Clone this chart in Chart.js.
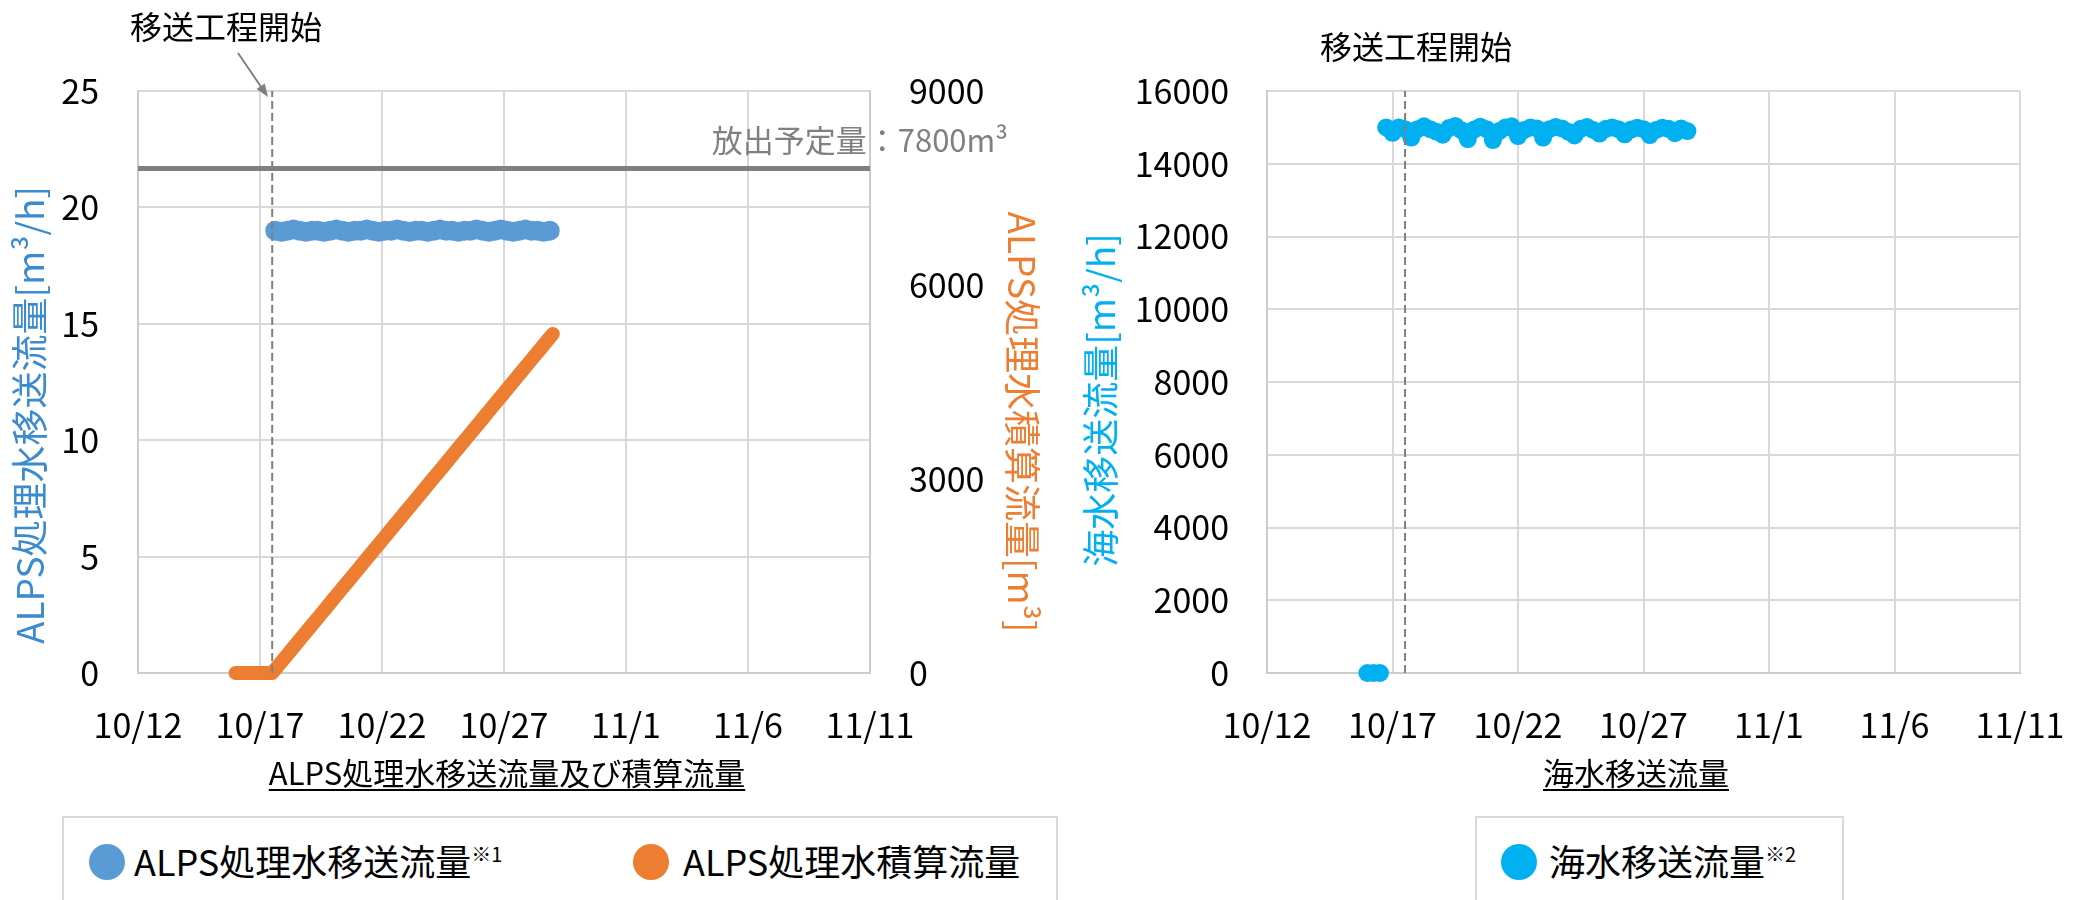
<!DOCTYPE html>
<html lang="ja">
<head>
<meta charset="utf-8">
<title>ALPS処理水移送流量及び積算流量・海水移送流量</title>
<script src="https://cdn.jsdelivr.net/npm/chart.js@4.4.1/dist/chart.umd.min.js"></script>
<style>
    html, body { margin: 0; padding: 0; background: #fff; }
    body { width: 2073px; height: 900px; position: relative; overflow: hidden; font-family: 'Noto Sans CJK JP', sans-serif; }
    .chartBox { position: absolute; top: 0; height: 810px; }
    .legend { position: absolute; top: 816px; height: 120px; border: 2px solid #d9d9d9; box-sizing: border-box; background: #fff; }
    .dot { position: absolute; top: 26px; width: 36px; height: 36px; border-radius: 50%; }
    .label { position: absolute; top: 24px; font-size: 36px; line-height: 36px; color: #000; white-space: nowrap; }
    .label sup { font-size: 20px; line-height: 20px; vertical-align: top; position: relative; top: 2px; }
</style>
</head>
<body>
<div class="chartBox" style="left:0; width:1060px;"><canvas id="alpsChart"></canvas></div>
<div class="chartBox" style="left:1060px; width:1013px;"><canvas id="seaChart"></canvas></div>

<div class="legend" style="left:62px; width:996px;">
    <span class="dot" style="left:25px; background:#5B9BD5;"></span>
    <span class="label" style="left:70px;">ALPS処理水移送流量<sup>※1</sup></span>
    <span class="dot" style="left:569px; background:#ED7D31;"></span>
    <span class="label" style="left:619px;">ALPS処理水積算流量</span>
</div>
<div class="legend" style="left:1475px; width:369px;">
    <span class="dot" style="left:24px; background:#00B0F0;"></span>
    <span class="label" style="left:72px;">海水移送流量<sup>※2</sup></span>
</div>

<script>
// 横軸は 10/12 0:00 からの経過日数
const dateLabels = ['10/12', '10/17', '10/22', '10/27', '11/1', '11/6', '11/11'];
const xMin = 0, xMax = 30, xStep = 5;
const sampleStep = 0.25;        // 6時間ごと
const transferStart = 5.5;      // 移送工程開始 (10/17 12:00)
const plannedVolume = 7800;     // 放出予定量 [m3]

// ALPS処理水移送流量 [m3/h]  10/17 15:00 から
const alpsFlowStart = 5.625;
const alpsFlow = [
    19.0, 18.95, 19.0, 19.05, 19.0, 18.95, 19.0, 19.0, 18.95, 19.0,
    19.05, 19.0, 18.95, 19.0, 19.0, 19.05, 19.0, 18.95, 19.0, 19.0,
    19.05, 19.0, 18.95, 19.0, 19.0, 18.95, 19.0, 19.05, 19.0, 19.0,
    18.95, 19.0, 19.0, 19.05, 19.0, 18.95, 19.0, 19.05, 19.0, 18.95,
    19.0, 19.05, 19.0, 19.0, 18.95, 19.0
];

// ALPS処理水積算流量 [m3]  10/16 0:00 から
const alpsCumStart = 4.0;
const alpsCum = [
    0, 0, 0, 0, 0, 0, 0,
    114, 227, 341, 456, 570, 684, 797, 911, 1025, 1140,
    1254, 1368, 1481, 1595, 1710, 1824, 1938, 2051, 2165, 2280,
    2394, 2508, 2621, 2735, 2850, 2964, 3078, 3191, 3305, 3420,
    3534, 3648, 3761, 3875, 3990, 4104, 4218, 4331, 4445, 4560,
    4674, 4788, 4901, 5015, 5130, 5244
];

// 海水移送流量 [m3/h]  10/16 0:00 から
const seaFlowStart = 4.0;
const seaFlow = [
    0, 0, 0,
    15000, 14850, 15000, 14950, 14720, 14950, 15030, 14950, 14880, 14800,
    14980, 15040, 14920, 14680, 14940, 15020, 14950, 14650, 14900, 15000,
    15030, 14760, 14930, 15000, 14970, 14720, 14950, 15010, 14970, 14880,
    14780, 14960, 15010, 14930, 14830, 14960, 15000, 14950, 14810, 14940,
    14990, 14950, 14790, 14930, 14990, 14960, 14840, 14970, 14900
];

const toPoints = (start, values) => values.map((v, i) => ({ x: start + i * sampleStep, y: v }));

Chart.defaults.font.family = "'Noto Sans CJK JP', 'Noto Sans', sans-serif";
Chart.defaults.color = '#000';
Chart.defaults.animation = false;

// グラフ外の文字・矢印を描くプラグイン
function makeTextPlugin(items, arrow) {
    return {
        id: 'extraText',
        afterDraw(chart) {
            const ctx = chart.ctx;
            items.forEach(it => {
                ctx.save();
                ctx.font = it.font;
                ctx.fillStyle = it.color || '#000';
                ctx.textAlign = it.align || 'center';
                ctx.textBaseline = 'middle';
                ctx.translate(it.x, it.y);
                if (it.rotate) ctx.rotate(it.rotate * Math.PI / 180);
                ctx.fillText(it.text, 0, 0);
                if (it.underline) {
                    const w = ctx.measureText(it.text).width;
                    ctx.fillRect(-w / 2, it.underline, w, 2);
                }
                ctx.restore();
            });
            if (arrow) {
                const [x1, y1, x2, y2] = arrow;
                const a = Math.atan2(y2 - y1, x2 - x1);
                ctx.save();
                ctx.strokeStyle = '#7f7f7f';
                ctx.fillStyle = '#7f7f7f';
                ctx.lineWidth = 2;
                ctx.beginPath();
                ctx.moveTo(x1, y1);
                ctx.lineTo(x2 - 10 * Math.cos(a), y2 - 10 * Math.sin(a));
                ctx.stroke();
                ctx.beginPath();
                ctx.moveTo(x2, y2);
                ctx.lineTo(x2 - 13 * Math.cos(a) + 5 * Math.sin(a), y2 - 13 * Math.sin(a) - 5 * Math.cos(a));
                ctx.lineTo(x2 - 13 * Math.cos(a) - 5 * Math.sin(a), y2 - 13 * Math.sin(a) + 5 * Math.cos(a));
                ctx.closePath();
                ctx.fill();
                ctx.restore();
            }
        }
    };
}

const gridStyle = { color: '#d9d9d9', lineWidth: 2, drawTicks: false };
const borderStyle = { color: '#cccccc', width: 2 };
const tickFont = { size: 34 };
const plainNumber = v => String(v);

function xScale() {
    return {
        type: 'linear', min: xMin, max: xMax,
        // 高さ固定、ラベルのはみ出し分の余白は取らない
        afterFit: s => { s.height = 137; s.paddingLeft = 0; s.paddingRight = 0; },
        ticks: {
            stepSize: xStep, autoSkip: false, maxRotation: 0, padding: 32, font: tickFont,
            callback: v => dateLabels[Math.round(v / xStep)]
        },
        grid: gridStyle,
        border: borderStyle
    };
}

// 左: ALPS処理水移送流量及び積算流量
new Chart(document.getElementById('alpsChart'), {
    type: 'scatter',
    data: {
        datasets: [
            {
                label: '移送工程開始',
                data: [{ x: transferStart, y: 0 }, { x: transferStart, y: 25 }],
                yAxisID: 'y', showLine: true, pointRadius: 0,
                borderColor: '#7f7f7f', borderWidth: 2, borderDash: [8, 4], order: 0
            },
            {
                label: '放出予定量',
                data: [{ x: xMin, y: plannedVolume }, { x: xMax, y: plannedVolume }],
                yAxisID: 'y1', showLine: true, pointRadius: 0,
                borderColor: '#808080', borderWidth: 5, order: 1
            },
            {
                label: 'ALPS処理水移送流量',
                data: toPoints(alpsFlowStart, alpsFlow),
                yAxisID: 'y', pointRadius: 10, pointBorderWidth: 0,
                pointBackgroundColor: '#5B9BD5', pointBorderColor: '#5B9BD5', order: 2, clip: false
            },
            {
                label: 'ALPS処理水積算流量',
                data: toPoints(alpsCumStart, alpsCum),
                yAxisID: 'y1', showLine: true, pointRadius: 0,
                borderColor: '#ED7D31', borderWidth: 14,
                borderCapStyle: 'round', borderJoinStyle: 'round', order: 3, clip: false
            }
        ]
    },
    options: {
        responsive: true,
        maintainAspectRatio: false,
        layout: { padding: { top: 91, left: 0, right: 0, bottom: 0 } },
        plugins: { legend: { display: false }, tooltip: { enabled: false } },
        scales: {
            x: xScale(),
            y: {
                position: 'left', min: 0, max: 25,
                afterFit: s => { s.width = 138; },
                ticks: { stepSize: 5, padding: 39, font: tickFont, callback: plainNumber },
                grid: gridStyle,
                border: borderStyle
            },
            y1: {
                position: 'right', min: 0, max: 9000,
                afterFit: s => { s.width = 190; },
                ticks: { stepSize: 3000, padding: 39, font: tickFont, callback: plainNumber },
                grid: { drawOnChartArea: false, drawTicks: false },
                border: borderStyle
            }
        }
    },
    plugins: [makeTextPlugin([
        { text: '移送工程開始', x: 226, y: 27, font: "32px 'Noto Sans CJK JP'" },
        { text: '放出予定量：7800m³', x: 1008, y: 140, align: 'right', color: '#808080', font: "31px 'Noto Sans CJK JP'" },
        { text: 'ALPS処理水移送流量[m³/h]', x: 30, y: 415, rotate: -90, color: '#3A8BD0', font: "37px 'Noto Sans CJK JP'" },
        { text: 'ALPS処理水積算流量[m³]', x: 1022, y: 422, rotate: 90, color: '#ED7D31', font: "37px 'Noto Sans CJK JP'" },
        { text: 'ALPS処理水移送流量及び積算流量', x: 507, y: 773, underline: 16, font: "31px 'Noto Sans CJK JP'" }
    ], [238, 53, 268, 97])]
});

// 右: 海水移送流量
new Chart(document.getElementById('seaChart'), {
    type: 'scatter',
    data: {
        datasets: [
            {
                label: '移送工程開始',
                data: [{ x: transferStart, y: 0 }, { x: transferStart, y: 16000 }],
                showLine: true, pointRadius: 0,
                borderColor: '#7f7f7f', borderWidth: 2, borderDash: [8, 4], order: 0
            },
            {
                label: '海水移送流量',
                data: toPoints(seaFlowStart, seaFlow),
                pointRadius: 9, pointBorderWidth: 0,
                pointBackgroundColor: '#00B0F0', pointBorderColor: '#00B0F0', order: 1, clip: false
            }
        ]
    },
    options: {
        responsive: true,
        maintainAspectRatio: false,
        layout: { padding: { top: 91, left: 0, right: 53, bottom: 0 } },
        plugins: { legend: { display: false }, tooltip: { enabled: false } },
        scales: {
            x: xScale(),
            y: {
                position: 'left', min: 0, max: 16000,
                afterFit: s => { s.width = 207; },
                ticks: { stepSize: 2000, padding: 38, font: tickFont, callback: plainNumber },
                grid: gridStyle,
                border: borderStyle
            }
        }
    },
    plugins: [makeTextPlugin([
        { text: '移送工程開始', x: 356, y: 47, font: "32px 'Noto Sans CJK JP'" },
        { text: '海水移送流量[m³/h]', x: 41, y: 400, rotate: -90, color: '#00B0F0', font: "37px 'Noto Sans CJK JP'" },
        { text: '海水移送流量', x: 576, y: 773, underline: 16, font: "31px 'Noto Sans CJK JP'" }
    ])]
});
</script>
</body>
</html>
